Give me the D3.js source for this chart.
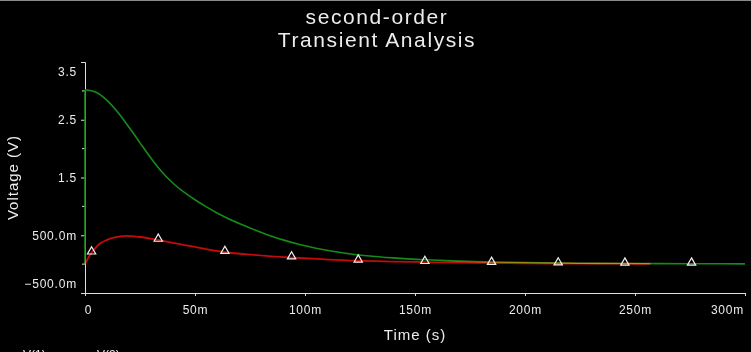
<!DOCTYPE html>
<html>
<head>
<meta charset="utf-8">
<script src="https://cdn.jsdelivr.net/npm/d3@7"></script>
<style>
	body { margin: 0; background: #000; }
	text { font-family: "Liberation Sans", Arial, sans-serif; fill: #ececec; }
</style>
</head>
<body>
<div id="chart"></div>
<script>
// time in ms, voltage in V
const greenT = [0, 5, 10, 15, 20, 25, 30, 35, 40, 45, 50, 55, 60, 67.5, 75, 82.5, 90, 97.5, 105, 112.5, 120, 128, 140, 155, 170, 185, 200, 225, 250, 275, 300];
const greenV = [3.02, 2.975, 2.835, 2.625, 2.37, 2.10, 1.835, 1.595, 1.40, 1.245, 1.115, 0.995, 0.885, 0.745, 0.625, 0.515, 0.42, 0.34, 0.275, 0.222, 0.18, 0.146, 0.108, 0.075, 0.052, 0.037, 0.027, 0.016, 0.01, 0.007, 0.005];
const redT = [0, 1.5, 3, 5, 7, 10, 13, 19, 25, 33, 48, 63, 78, 93, 108, 123, 140, 154, 170, 184, 200, 215, 230, 245, 257];
const redV = [0, 0.11, 0.2, 0.29, 0.36, 0.42, 0.46, 0.49, 0.47, 0.42, 0.31, 0.21, 0.155, 0.115, 0.085, 0.06, 0.045, 0.035, 0.026, 0.02, 0.015, 0.011, 0.009, 0.007, 0.006];
const markerT = [3, 33.3, 63.6, 93.9, 124.2, 154.5, 184.8, 215.1, 245.4, 275.7];
const markerV = [0.2, 0.42, 0.21, 0.115, 0.06, 0.035, 0.02, 0.011, 0.007, 0.007];
const yMajor = [3.5, 2.5, 1.5, 0.5, -0.5];
const yMinor = [3.0, 2.0, 1.0, 0.0];
const xTicks = [0, 50, 100, 150, 200, 250, 300];
const titleLines = ["second-order", "Transient Analysis"];
const legendNames = ["V(1)", "V(2)"];

const width = 751, height = 352;
const svg = d3.select("#chart").append("svg")
	.attr("width", width)
	.attr("height", height)
	.style("background", "#000");

svg.append("line")
	.attr("x1", 0).attr("x2", width).attr("y1", 0.5).attr("y2", 0.5)
	.attr("stroke", "#8a8a8a");

const x = d3.scaleLinear().domain([0, 300]).range([85, 745]);
const y = d3.scaleLinear().domain([-0.5, 3.5]).range([293, 62]);

// title
svg.append("g").selectAll("text")
	.data(titleLines)
	.enter()
	.append("text")
	.attr("x", 377)
	.attr("y", (d, i) => 24 + i * 23)
	.attr("text-anchor", "middle")
	.style("font-size", "21px")
	.style("letter-spacing", "1.6px")
	.text(d => d);

// axes
const axisColor = "#dcdcdc";
const gy = svg.append("g")
	.attr("transform", `translate(${x(0)},0)`)
	.call(d3.axisLeft(y).tickValues(yMajor).tickSize(4).tickSizeOuter(4).tickPadding(4)
		.tickFormat(d => Math.abs(d) < 1 ? d3.format(".1f")(d * 1000) + "m" : d));
gy.selectAll(".tick text")
	.style("font-size", "12px")
	.style("letter-spacing", "0.8px")
	.attr("dy", d => d === 3.5 ? "1.15em" : d === -0.5 ? "-0.45em" : "0.32em");
gy.selectAll(".tick")
	.filter(d => d === 3.5 || d === -0.5)
	.select("line").remove();
gy.append("g").selectAll("line")
	.data(yMinor)
	.enter()
	.append("line")
	.attr("x1", -3).attr("x2", 0)
	.attr("y1", d => y(d)).attr("y2", d => y(d));

const gx = svg.append("g")
	.attr("transform", `translate(0,${y(-0.5)})`)
	.call(d3.axisBottom(x).tickValues(xTicks).tickSize(3).tickSizeOuter(3).tickPadding(9)
		.tickFormat(d => d === 0 ? "0" : d + "m"));
gx.selectAll(".tick text")
	.style("font-size", "12px")
	.style("letter-spacing", "0.8px")
	.attr("x", d => d === 0 ? 3 : d === 300 ? -18 : 0);

svg.selectAll(".domain, .tick line, g line").attr("stroke", axisColor);
svg.selectAll(".tick text").attr("fill", "#ececec");

svg.append("text")
	.attr("x", (x(0) + x(300)) / 2)
	.attr("y", 340)
	.attr("text-anchor", "middle")
	.style("font-size", "15px")
	.style("letter-spacing", "1px")
	.text("Time (s)");

svg.append("text")
	.attr("transform", `translate(18,${(y(3.5) + y(-0.5)) / 2}) rotate(-90)`)
	.attr("text-anchor", "middle")
	.style("font-size", "15px")
	.style("letter-spacing", "1px")
	.text("Voltage (V)");

// traces
const line = d3.line()
	.x(d => x(d[0]))
	.y(d => y(d[1]))
	.curve(d3.curveMonotoneX);

const greenData = greenT.map((t, i) => [t, greenV[i]]);
const redData = redT.map((t, i) => [t, redV[i]]);

svg.append("line")
	.attr("x1", x(0)).attr("x2", x(0))
	.attr("y1", y(0)).attr("y2", y(greenV[0]))
	.attr("stroke", "#158c18")
	.attr("stroke-width", 1.6);

svg.append("path")
	.datum(greenData)
	.attr("d", line)
	.attr("fill", "none")
	.attr("stroke", "#158c18")
	.attr("stroke-width", 1.6);

svg.append("path")
	.datum(redData)
	.attr("d", line)
	.attr("fill", "none")
	.attr("stroke", "#c40a0a")
	.attr("stroke-width", 1.8)
	.style("mix-blend-mode", "lighten");

svg.append("g").selectAll("path")
	.data(markerT.map((t, i) => [t, markerV[i]]))
	.enter()
	.append("path")
	.attr("d", d3.symbol().type(d3.symbolTriangle).size(30))
	.attr("transform", d => `translate(${x(d[0])},${y(d[1]) - 1})`)
	.attr("fill", "none")
	.attr("stroke", "#f2f2f2")
	.attr("stroke-width", 1.2);

// legend, cut off by the bottom edge like the original
svg.append("g").selectAll("text")
	.data(legendNames)
	.enter()
	.append("text")
	.attr("x", (d, i) => 23 + i * 74)
	.attr("y", 359)
	.style("font-size", "12px")
	.attr("fill", "#bdbdbd")
	.text(d => d);
</script>
</body>
</html>
